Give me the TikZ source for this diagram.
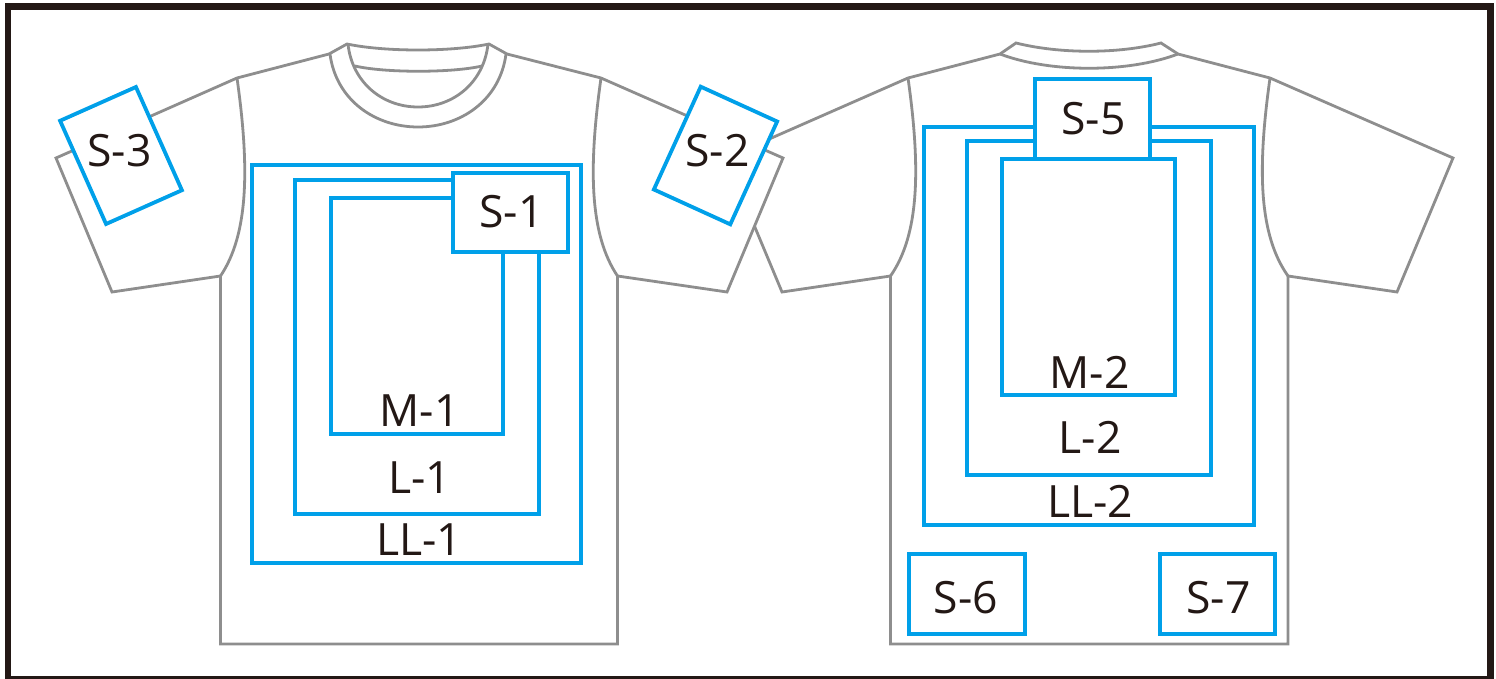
\documentclass[tikz,border=0pt]{standalone}
\usepackage{fontspec}
\setmainfont{Open Sans}
\usetikzlibrary{positioning}
\definecolor{seam}{HTML}{8E8E8E}
\definecolor{printblue}{HTML}{00A0E9}
\definecolor{inkblack}{HTML}{231815}

\begin{document}
\begin{tikzpicture}[
    x=1pt, y=-1pt,
    shirt/.style={draw=seam, line width=2.8pt, line join=miter},
    area/.style={rectangle, draw=printblue, line width=3.8pt, inner sep=0pt},
    patch/.style={area, fill=white},
    tag/.style={text=inkblack, inner sep=0pt, font=\fontsize{44.5}{44.5}\selectfont}
]
    \useasboundingbox (0,0) rectangle (1496,679);

    % back of the shirt
    \draw[shirt, fill=white] (890.5,276) -- (782,292) -- (726,158) -- (908,78) -- (1000,54) -- (1016,43)
        .. controls (1060,54) and (1118,54) .. (1161,43) -- (1178,54) -- (1270,78) -- (1453,158)
        -- (1397,292) -- (1288,276) -- (1288,644) -- (890.5,644) -- cycle;
    \draw[shirt] (1000,54) .. controls (1050,73) and (1128,73) .. (1178,54);
    \draw[shirt] (908,78) .. controls (921,170) and (919,235) .. (890.5,276);
    \draw[shirt] (1270,78) .. controls (1257,170) and (1259,235) .. (1288,276);

    % front of the shirt
    \draw[shirt, fill=white] (220.5,276) -- (112,292) -- (56,158) -- (237,78) -- (329,54) -- (347,44)
        .. controls (385,52) and (451,52) .. (489,44) -- (507,54) -- (601,78) -- (783,158)
        -- (727,292) -- (617.5,276) -- (617.5,644) -- (220.5,644) -- cycle;
    \draw[shirt] (330,54) .. controls (336,100) and (375,127) .. (418,127) .. controls (461,127) and (500,100) .. (506,54);
    \draw[shirt] (348,44) .. controls (352,82) and (382,107) .. (418,107) .. controls (454,107) and (484,82) .. (488,44);
    \draw[shirt] (355,66) .. controls (385,73) and (452,73) .. (482,66);
    \draw[shirt] (237,78) .. controls (250,170) and (248,235) .. (220.5,276);
    \draw[shirt] (601,78) .. controls (588,170) and (590,235) .. (617.5,276);

    % print areas
    \node[area, minimum width=329pt, minimum height=398pt] (llone) at (416.5,364) {};
    \node[area, minimum width=244pt, minimum height=334pt] (lone) at (417,347) {};
    \node[area, minimum width=172pt, minimum height=236pt] (mone) at (417,316) {};
    \node[area, minimum width=330pt, minimum height=398pt] (lltwo) at (1089,326) {};
    \node[area, minimum width=244pt, minimum height=334pt] (ltwo) at (1089,308) {};
    \node[patch, minimum width=115pt, minimum height=80pt] (sfive) at (1092.5,119) {};
    \node[area, minimum width=173pt, minimum height=236pt] (mtwo) at (1088.5,277) {};

    % small patches
    \node[patch, minimum width=115pt, minimum height=79pt] (sone) at (510.5,212.5) {};
    \node[patch, minimum width=83pt, minimum height=113pt, rotate=24] (sthree) at (121,155.5) {};
    \node[patch, minimum width=84pt, minimum height=113pt, rotate=-24.5] (stwo) at (715.5,155.5) {};
    \node[patch, minimum width=116pt, minimum height=80pt] (ssix) at (967,594) {};
    \node[patch, minimum width=115pt, minimum height=80pt] (sseven) at (1217.5,594) {};

    % labels
    \node[tag] (sonetext) at (511.5,212) {S-1};
    \node[tag] (stwotext) at (717.5,151) {S-2};
    \node[tag] (sthreetext) at (119.5,151) {S-3};
    \node[tag] (sfivetext) at (1093.5,119) {S-5};
    \node[tag] (ssixtext) at (966,598) {S-6};
    \node[tag] (sseventext) at (1218.5,598) {S-7};
    \node[tag] (monetext) at (419.5,411) {M-1};
    \node[tag] (lonetext) at (419.5,478) {L-1};
    \node[tag] (llonetext) at (419,540) {LL-1};
    \node[tag] (mtwotext) at (1089.5,372) {M-2};
    \node[tag] (ltwotext) at (1090,437) {L-2};
    \node[tag] (lltwotext) at (1090,501) {LL-2};

    % outer frame
    \node[rectangle, draw=inkblack, line width=6.5pt, minimum width=1482.5pt, minimum height=672.5pt] (frame) at (749,343) {};
\end{tikzpicture}
\end{document}
